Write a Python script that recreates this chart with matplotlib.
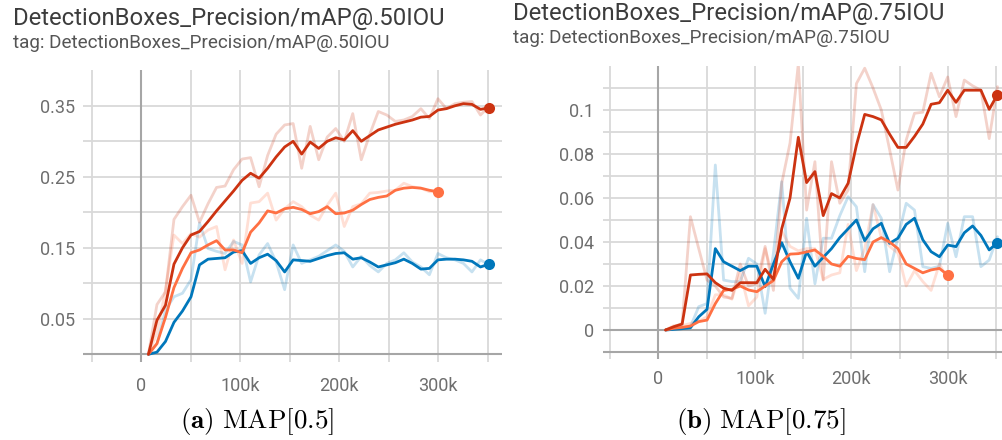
import matplotlib
matplotlib.use("Agg")
import matplotlib.pyplot as plt
import numpy as np

# ---------------------------------------------------------------- data
# evaluation steps (thousands of training steps)
steps_k = [7.5, 16.1, 24.7, 33.3, 41.9, 50.5, 59.1, 67.7, 76.3, 84.9,
           93.5, 102.1, 110.7, 119.3, 127.9, 136.5, 145.1, 153.7, 162.3, 170.9,
           179.5, 188.1, 196.7, 205.3, 213.9, 222.5, 231.1, 239.7, 248.3, 256.9,
           265.5, 274.1, 282.7, 291.3, 299.9, 308.5, 317.1, 325.7, 334.3, 342.9,
           351.5]

# mAP@.50IOU  (raw evaluations and smoothed curves)
map50_red_raw = [0.0, 0.070, 0.088, 0.190, 0.208, 0.224, 0.186, 0.212, 0.235, 0.237,
                 0.260, 0.275, 0.277, 0.236, 0.280, 0.310, 0.323, 0.325, 0.262, 0.321,
                 0.274, 0.306, 0.318, 0.300, 0.339, 0.274, 0.310, 0.342, 0.337, 0.328,
                 0.330, 0.335, 0.346, 0.332, 0.360, 0.346, 0.353, 0.355, 0.356, 0.337,
                 0.349]
map50_red = [0.0, 0.048, 0.069, 0.127, 0.150, 0.168, 0.173, 0.187, 0.202, 0.216,
             0.230, 0.245, 0.255, 0.248, 0.262, 0.278, 0.292, 0.300, 0.282, 0.299,
             0.290, 0.300, 0.305, 0.302, 0.315, 0.300, 0.308, 0.316, 0.320, 0.324,
             0.327, 0.330, 0.334, 0.335, 0.344, 0.346, 0.350, 0.353, 0.352, 0.345,
             0.347]
map50_orange_raw = [0.0, 0.030, 0.090, 0.168, 0.156, 0.170, 0.165, 0.175, 0.180, 0.119,
                    0.161, 0.128, 0.213, 0.215, 0.227, 0.189, 0.205, 0.215, 0.208, 0.196,
                    0.189, 0.210, 0.227, 0.180, 0.208, 0.212, 0.227, 0.228, 0.230, 0.231,
                    0.241, 0.236, 0.234, 0.229, 0.229]
map50_orange = [0.0, 0.015, 0.052, 0.094, 0.121, 0.143, 0.147, 0.154, 0.160, 0.147,
                 0.147, 0.143, 0.172, 0.185, 0.202, 0.199, 0.205, 0.207, 0.204, 0.198,
                 0.201, 0.208, 0.198, 0.199, 0.203, 0.211, 0.218, 0.221, 0.223, 0.231,
                 0.234, 0.235, 0.234, 0.231, 0.229]
map50_blue_raw = [0.0, 0.015, 0.062, 0.081, 0.086, 0.105, 0.185, 0.149, 0.145, 0.142,
                  0.159, 0.154, 0.102, 0.140, 0.156, 0.130, 0.091, 0.154, 0.128, 0.133,
                  0.138, 0.146, 0.154, 0.145, 0.123, 0.138, 0.125, 0.116, 0.128, 0.133,
                  0.143, 0.130, 0.123, 0.112, 0.142, 0.136, 0.133, 0.128, 0.116, 0.133,
                  0.126]
map50_blue = [0.0, 0.003, 0.018, 0.045, 0.061, 0.081, 0.126, 0.134, 0.135, 0.136,
              0.144, 0.146, 0.128, 0.136, 0.141, 0.132, 0.116, 0.133, 0.132, 0.131,
              0.135, 0.139, 0.142, 0.143, 0.134, 0.136, 0.130, 0.123, 0.126, 0.129,
              0.134, 0.128, 0.120, 0.121, 0.133, 0.134, 0.134, 0.133, 0.131, 0.123,
              0.127]

# mAP@.75IOU
map75_red_raw = [0.0, 0.0015, 0.003, 0.0515, 0.037, 0.0227, 0.020, 0.015, 0.0144, 0.030,
                 0.020, 0.021, 0.038, 0.018, 0.0667, 0.085, 0.121, 0.0545, 0.0765, 0.0227,
                 0.0765, 0.0576, 0.0636, 0.112, 0.119, 0.110, 0.100, 0.082, 0.0636, 0.0864,
                 0.0985, 0.099, 0.1167, 0.106, 0.115, 0.097, 0.1136, 0.111, 0.109, 0.087,
                 0.1106]
map75_red = [0.0, 0.0015, 0.0027, 0.025, 0.0253, 0.0255, 0.0215, 0.019, 0.018, 0.0215,
             0.0215, 0.0215, 0.0276, 0.023, 0.046, 0.060, 0.0876, 0.067, 0.072, 0.052,
             0.062, 0.060, 0.0667, 0.084, 0.098, 0.097, 0.0955, 0.089, 0.083, 0.083,
             0.088, 0.0936, 0.1026, 0.1033, 0.109, 0.1035, 0.109, 0.109, 0.109, 0.1003,
             0.107]
map75_orange_raw = [0.0, 0.002, 0.002, 0.003, 0.004, 0.006, 0.016, 0.016, 0.014, 0.026,
                    0.011, 0.015, 0.037, 0.023, 0.045, 0.038, 0.036, 0.037, 0.037, 0.023,
                    0.025, 0.026, 0.048, 0.027, 0.037, 0.057, 0.042, 0.038, 0.035, 0.020,
                    0.027, 0.022, 0.018, 0.030, 0.023]
map75_orange = [0.0, 0.0008, 0.0012, 0.0018, 0.0038, 0.0045, 0.012, 0.018, 0.0185, 0.020,
                0.0182, 0.0174, 0.020, 0.0225, 0.031, 0.0345, 0.0347, 0.0355, 0.0364, 0.0335,
                0.030, 0.029, 0.0335, 0.0325, 0.032, 0.040, 0.042, 0.040, 0.037, 0.030,
                0.028, 0.026, 0.0273, 0.028, 0.025]
map75_blue_raw = [0.0, 0.0005, 0.001, 0.0015, 0.0106, 0.012, 0.075, 0.0227, 0.022, 0.022,
                  0.0326, 0.030, 0.0076, 0.035, 0.0674, 0.019, 0.0144, 0.0508, 0.021, 0.0417,
                  0.0417, 0.052, 0.0606, 0.056, 0.0265, 0.057, 0.0508, 0.0265, 0.042, 0.0576,
                  0.0545, 0.0288, 0.028, 0.029, 0.0485, 0.0333, 0.0515, 0.0515, 0.0288, 0.0318,
                  0.0424]
map75_blue = [0.0, 0.0003, 0.0006, 0.001, 0.006, 0.0094, 0.037, 0.031, 0.029, 0.027,
              0.029, 0.029, 0.0197, 0.030, 0.0397, 0.031, 0.0235, 0.0356, 0.029, 0.033,
              0.037, 0.042, 0.046, 0.050, 0.0406, 0.046, 0.0485, 0.0394, 0.0417, 0.048,
              0.0508, 0.041, 0.0356, 0.0333, 0.0386, 0.0379, 0.0442, 0.0473, 0.043, 0.0364,
              0.0397]

x_tick_labels = ["0", "100k", "200k", "300k"]
map50_yticks = [0.05, 0.15, 0.25, 0.35]
map75_yticks = [0, 0.02, 0.04, 0.06, 0.08, 0.1]

# ---------------------------------------------------------------- style
RED, ORANGE, BLUE = "#cc3311", "#ff7043", "#0077bb"
GRID = "#d9d9d9"
AXIS = "#a6a6a6"
TICK_TXT = "#6e6e6e"
TITLE_TXT = "#3c3c3c"
SUB_TXT = "#555555"

plt.rcParams["font.family"] = ["Roboto", "DejaVu Sans"]
plt.rcParams["mathtext.fontset"] = "cm"

W, H = 1002, 440
fig = plt.figure(figsize=(W / 100, H / 100), dpi=100)


def px_axes(x0, y0, x1, y1):
    return fig.add_axes([x0 / W, 1 - y1 / H, (x1 - x0) / W, (y1 - y0) / H])


def draw_panel(ax, xlim, ylim, hgrid, yticks, ylabels, series, bottom_line, zero_line,
               xlab_pad, ylab_pad):
    ax.set_xlim(*xlim)
    ax.set_ylim(*ylim)
    for s in ax.spines.values():
        s.set_visible(False)
    ax.set_facecolor("white")
    # grid
    for gx in np.arange(-50e3, 351e3, 50e3):
        ax.axvline(gx, color=GRID, lw=1.3, zorder=0)
    for gy in hgrid:
        ax.axhline(gy, color=GRID, lw=1.3, zorder=0)
    ax.axvline(0, color=AXIS, lw=1.5, zorder=1)
    ax.axhline(bottom_line, color=AXIS, lw=1.5, zorder=1)
    if zero_line is not None:
        ax.axhline(zero_line, color=AXIS, lw=1.5, zorder=1)
    # runs: faint raw evaluations underneath, smoothed curves on top
    for raw, smooth, color in series:
        n = len(smooth)
        x = np.array(steps_k[:n]) * 1000
        ax.plot(x, raw, color=color, lw=2.0, alpha=0.22, zorder=2,
                solid_joinstyle="round", solid_capstyle="round")
    for raw, smooth, color in series:
        n = len(smooth)
        x = np.array(steps_k[:n]) * 1000
        ax.plot(x, smooth, color=color, lw=2.0, zorder=3,
                solid_joinstyle="round", solid_capstyle="round")
        ax.plot(x[-1], smooth[-1], "o", color=color, ms=8, mec="none", zorder=4)
    # ticks
    ax.set_xticks([0, 100e3, 200e3, 300e3])
    ax.set_xticklabels(x_tick_labels)
    ax.set_yticks(yticks)
    ax.set_yticklabels(ylabels)
    ax.tick_params(axis="x", length=0, pad=xlab_pad, labelsize=13, labelcolor=TICK_TXT)
    ax.tick_params(axis="y", length=0, pad=ylab_pad, labelsize=13, labelcolor=TICK_TXT)


# left panel: mAP@.50IOU
axL = px_axes(83, 70.3, 502, 362)
draw_panel(axL,
           xlim=((83 - 141) / 0.99 * 1000, (502 - 141) / 0.99 * 1000),
           ylim=(-(362 - 354.3) / 710, 0.4),
           hgrid=np.arange(0.05, 0.351, 0.05),
           yticks=map50_yticks, ylabels=["0.05", "0.15", "0.25", "0.35"],
           series=[(map50_blue_raw, map50_blue, BLUE),
                   (map50_orange_raw, map50_orange, ORANGE),
                   (map50_red_raw, map50_red, RED)],
           bottom_line=0.0, zero_line=None, xlab_pad=10.5, ylab_pad=6)

# right panel: mAP@.75IOU
axR = px_axes(602.7, 66, 1002, 359.3)
draw_panel(axR,
           xlim=((602.7 - 658.3) / 0.965 * 1000, (1002 - 658.3) / 0.965 * 1000),
           ylim=(-0.01 - (359.3 - 352) / 2200, 0.12),
           hgrid=np.arange(-0.01, 0.1101, 0.01),
           yticks=map75_yticks, ylabels=["0", "0.02", "0.04", "0.06", "0.08", "0.1"],
           series=[(map75_blue_raw, map75_blue, BLUE),
                   (map75_orange_raw, map75_orange, ORANGE),
                   (map75_red_raw, map75_red, RED)],
           bottom_line=-0.01, zero_line=0.0, xlab_pad=8, ylab_pad=6.5)

# headers
fig.text(13 / W, 1 - 25 / H, "DetectionBoxes_Precision/mAP@.50IOU", fontsize=17.2,
         color=TITLE_TXT, ha="left", va="baseline")
fig.text(13 / W, 1 - 48 / H, "tag: DetectionBoxes_Precision/mAP@.50IOU", fontsize=13.6,
         color=SUB_TXT, ha="left", va="baseline")
fig.text(513 / W, 1 - 20 / H, "DetectionBoxes_Precision/mAP@.75IOU", fontsize=17.2,
         color=TITLE_TXT, ha="left", va="baseline")
fig.text(513 / W, 1 - 43 / H, "tag: DetectionBoxes_Precision/mAP@.75IOU", fontsize=13.6,
         color=SUB_TXT, ha="left", va="baseline")

# sub-figure captions
fig.text(257 / W, 1 - 421 / H, r"$\mathbf{(a)}\ \mathrm{MAP[0.5]}$", fontsize=19.5,
         color="black", ha="center", va="center")
fig.text(761 / W, 1 - 421 / H, r"$\mathbf{(b)}\ \mathrm{MAP[0.75]}$", fontsize=19.5,
         color="black", ha="center", va="center")

fig.savefig("out.png", dpi=100, facecolor="white")
